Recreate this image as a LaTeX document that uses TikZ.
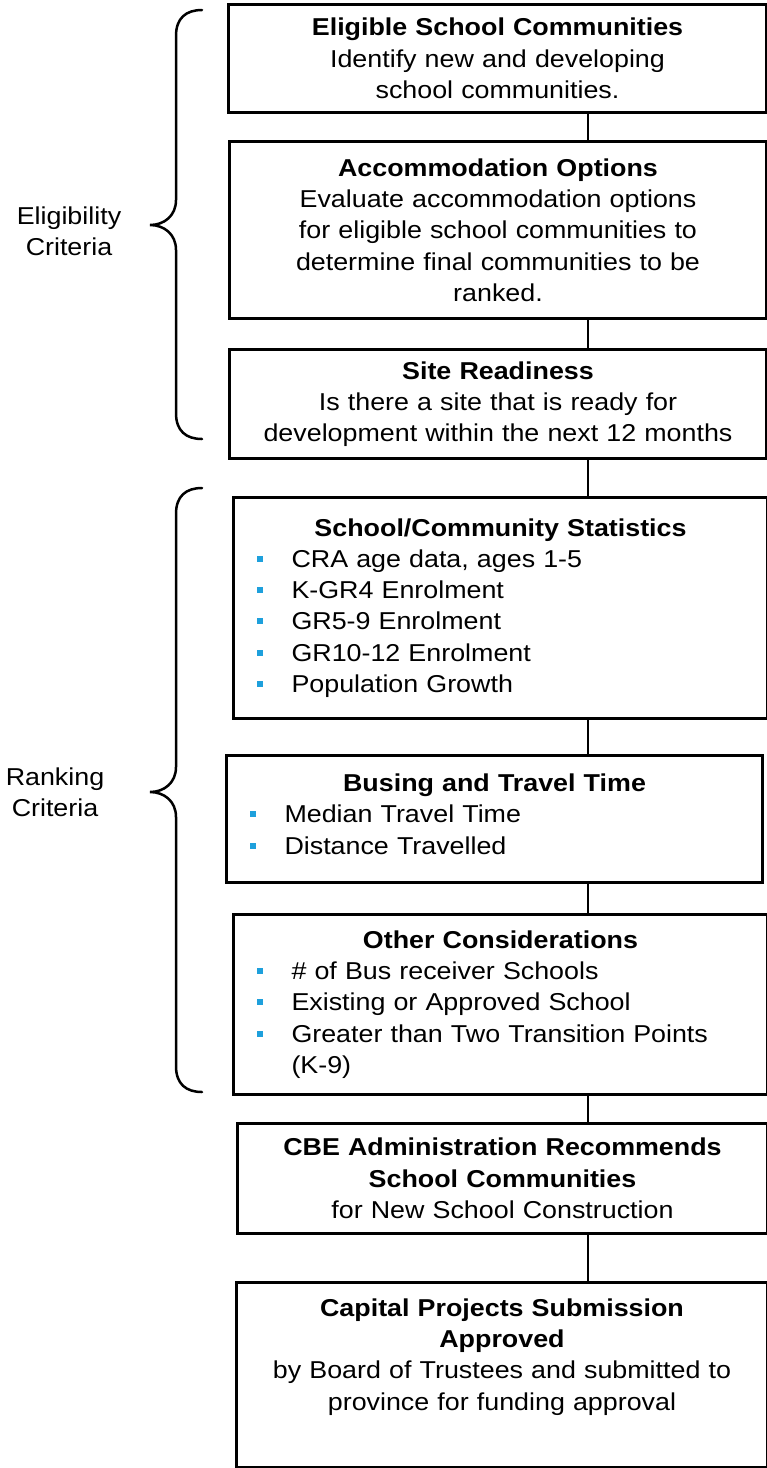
\documentclass[tikz,border=0pt]{standalone}
\usepackage{fontspec}
\setmainfont{Liberation Sans}[FakeStretch=1.1]
\usetikzlibrary{calc}
\definecolor{bulc}{RGB}{30,160,220}
\newcommand{\bitem}[1]{\par\hangindent=58pt\hangafter=1\noindent\hbox to 58pt{\hskip 23pt\textcolor{bulc}{\rule[5.5pt]{6pt}{6pt}}\hss}#1\par}
\newcommand{\btitle}[1]{{\centering\bfseries #1\par}}
\begin{document}
\begin{tikzpicture}[x=1pt,y=-1pt,
  box/.style={draw, line width=3pt, inner sep=0pt, anchor=north west, font=\fontsize{24.4}{31.3}\selectfont},
  cbox/.style={box, align=center},
  lbox/.style={box, align=left},
  conn/.style={line width=2.2pt},
  brace/.style={line width=2.5pt, line cap=round},
  lab/.style={align=center, font=\fontsize{24.4}{31.3}\selectfont, inner sep=0pt}]
\useasboundingbox (0,0) rectangle (767,1468);

\node[cbox, text width=538pt, minimum width=538pt, minimum height=108pt] (b1) at (227,3)
  {\textbf{Eligible School Communities}\\Identify new and developing\\school communities.};
\node[cbox, text width=537pt, minimum width=537pt, minimum height=177pt] (b2) at (228,140)
  {\textbf{Accommodation Options}\\Evaluate accommodation options\\for eligible school communities to\\determine final communities to be\\ranked.};
\node[cbox, text width=537pt, minimum width=537pt, minimum height=109pt] (b3) at (228,348)
  {\textbf{Site Readiness}\\Is there a site that is ready for\\development within the next 12 months};
\node[lbox, text width=534pt, minimum width=534pt, minimum height=221pt] (b4) at (232,496)
  {\btitle{School/Community Statistics}\bitem{CRA age data, ages 1-5}\bitem{K-GR4 Enrolment}\bitem{GR5-9 Enrolment}\bitem{GR10-12 Enrolment}\bitem{Population Growth}};
\node[lbox, text width=536pt, minimum width=536pt, minimum height=127pt] (b5) at (225,754)
  {\btitle{Busing and Travel Time}\bitem{Median Travel Time}\bitem{Distance Travelled}\vspace{10pt}\hrule height 0pt};
\node[lbox, text width=534pt, minimum width=534pt, minimum height=180pt] (b6) at (232,913)
  {\btitle{Other Considerations}\bitem{\# of Bus receiver Schools}\bitem{Existing or Approved School}\bitem{Greater than Two Transition Points\hfil\break (K-9)}};
\node[cbox, text width=530pt, minimum width=530pt, minimum height=110pt] (b7) at (236,1122)
  {\textbf{CBE Administration Recommends\\School Communities}\\for New School Construction};
\node[cbox, text width=531pt, minimum width=531pt, minimum height=185pt] (b8) at (235,1281)
  {\textbf{Capital Projects Submission\\Approved}\\by Board of Trustees and submitted to\\province for funding approval\par\vspace{36pt}\hrule height 0pt};

\coordinate (cx) at (588,0);
\draw[conn] (b1.south -| cx) -- (b2.north -| cx);
\draw[conn] (b2.south -| cx) -- (b3.north -| cx);
\draw[conn] (b3.south -| cx) -- (b4.north -| cx);
\draw[conn] (b4.south -| cx) -- (b5.north -| cx);
\draw[conn] (b5.south -| cx) -- (b6.north -| cx);
\draw[conn] (b6.south -| cx) -- (b7.north -| cx);
\draw[conn] (b7.south -| cx) -- (b8.north -| cx);

\draw[brace] (202,10) .. controls (186,10) and (176,18) .. (176,36) -- (176,200)
  .. controls (176,216) and (164,225) .. (150,225)
  .. controls (164,225) and (176,234) .. (176,250) -- (176,413)
  .. controls (176,431) and (186,439) .. (202,439);
\draw[brace] (202,488) .. controls (186,488) and (176,496) .. (176,514) -- (176,767)
  .. controls (176,783) and (164,792) .. (150,792)
  .. controls (164,792) and (176,801) .. (176,817) -- (176,1066)
  .. controls (176,1084) and (186,1092) .. (202,1092);

\node[lab] (elig) at (69,231) {Eligibility\\Criteria};
\node[lab] (rank) at (55,792) {Ranking\\Criteria};
\end{tikzpicture}
\end{document}
